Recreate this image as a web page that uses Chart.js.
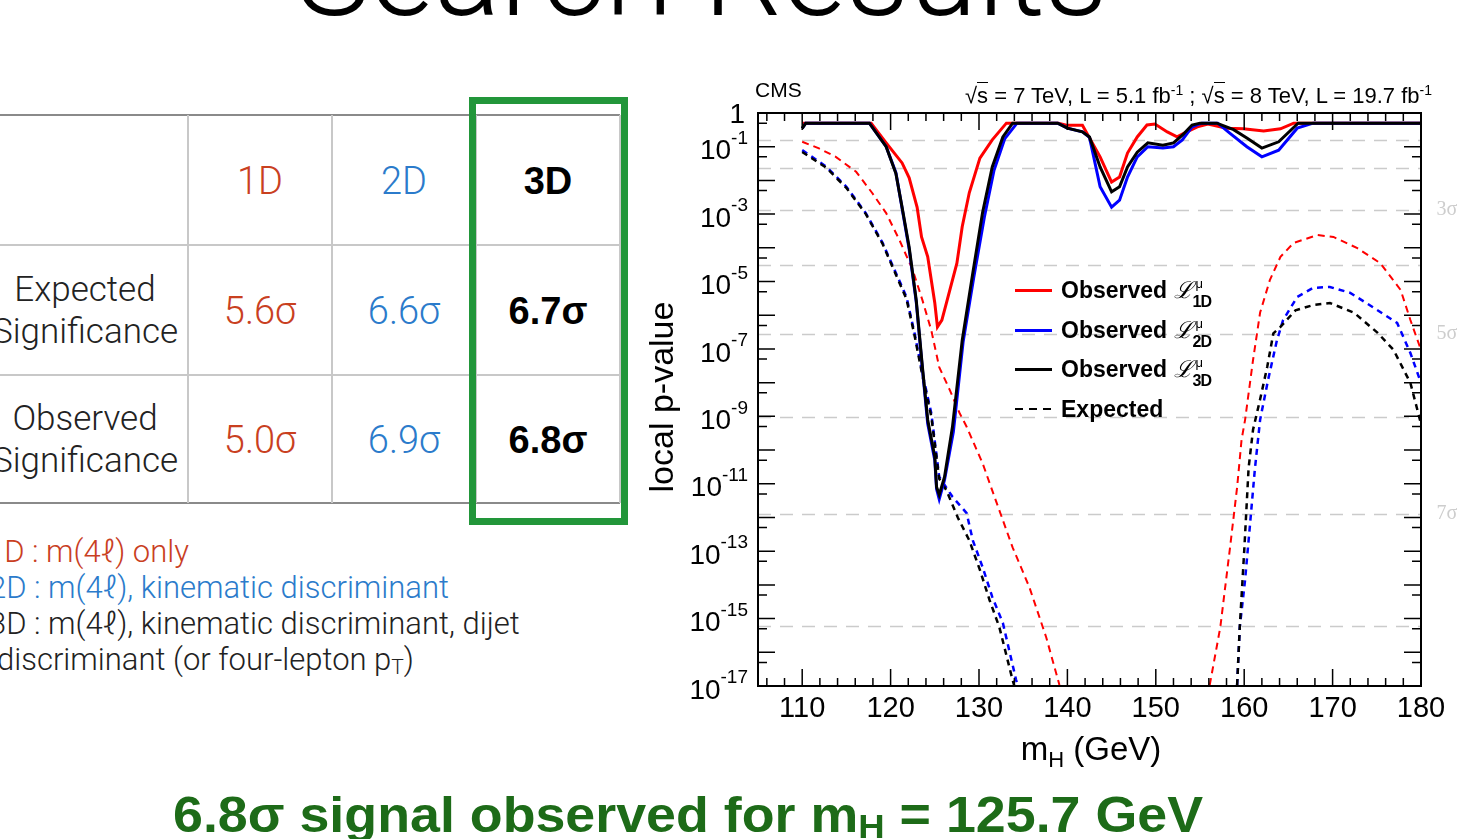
<!DOCTYPE html>
<html>
<head>
<meta charset="utf-8">
<script src="https://cdn.jsdelivr.net/npm/chart.js@4.4.0/dist/chart.umd.min.js"></script>
<style>
  html, body { margin: 0; padding: 0; }
  body { width: 1459px; height: 839px; overflow: hidden; background: #fff; position: relative;
         font-family: "Liberation Sans", Helvetica, Arial, sans-serif; }
  .abs { position: absolute; white-space: nowrap; }
  .light { font-family: Roboto, "Liberation Sans", sans-serif; font-weight: 300; }
  .hl { position: absolute; height: 0; }
  .vl { position: absolute; width: 0; }
  .cell { position: absolute; text-align: center; transform: translate(-50%, -50%); white-space: nowrap; }
  .red { color: #c9401f; }
  .blue { color: #2b7bcb; }
  #chart { position: absolute; left: 640px; top: 60px; }
  .leg { position: absolute; left: 1015px; height: 30px; font-weight: bold; font-size: 23px; color: #000; white-space: nowrap; }
  .leg .ln { position: absolute; left: 0; top: 14px; width: 37px; height: 3px; }
  .leg .tx { position: absolute; left: 46px; top: 0; line-height: 30px; }
  .ss { position: relative; display: inline-block; width: 22px; height: 30px; vertical-align: top; }
  .ss .up { position: absolute; left: 3px; top: -6px; font-size: 13px; font-weight: normal; }
  .ss .dn { position: absolute; left: 0px; top: 12px; font-size: 16px; font-weight: bold; letter-spacing: -1px; }
</style>
</head>
<body>

<div id="title" class="abs light" style="left:0; width:1404px; text-align:center; top:-89px; font-size:124px; line-height:124px; color:#000;">Search Results</div>

<div id="table"></div>
<div class="abs" style="left:469px; top:97px; width:159px; height:428px; box-sizing:border-box; border:7px solid #22963a;"></div>

<div class="abs light red" style="left:-13px; top:534px; font-size:31px; line-height:36px;">1D : m(4ℓ) only</div>
<div class="abs light blue" style="left:-11px; top:570px; font-size:31px; line-height:36px;">2D : m(4ℓ), kinematic discriminant</div>
<div class="abs light" style="left:-11px; top:606px; font-size:31px; line-height:36px; color:#222;">3D : m(4ℓ), kinematic discriminant, dijet</div>
<div class="abs light" style="left:-3px; top:642px; font-size:31px; line-height:36px; color:#222;">discriminant (or four-lepton p<span style="font-size:21px; vertical-align:-4px;">T</span>)</div>

<canvas id="chart" width="819" height="740"></canvas>

<div class="abs" style="left:755px; top:78px; font-size:21px; line-height:24px;">CMS</div>
<div class="abs" style="right:27px; top:78px; font-size:22px; line-height:24px;">√<span style="border-top:1px solid #000;">s</span> = 7 TeV, L = 5.1 fb<sup style="font-size:14px;">-1</sup> ; √<span style="border-top:1px solid #000;">s</span> = 8 TeV, L = 19.7 fb<sup style="font-size:14px;">-1</sup></div>

<div id="legend"></div>

<div id="bottom" class="abs" style="left:173px; top:786px; font-size:50px; line-height:58px; font-weight:bold; color:#1d6b18; transform-origin:0 0;">6.8σ signal observed for m<span style="font-size:34px; vertical-align:-6px;">H</span> = 125.7 GeV</div>

<script>
// ---- data (mH in GeV, local p-value) ----
const obs1D_m = [110, 117.8, 119.5, 121.3, 122.1, 123.0, 123.5, 124.2, 125.0, 125.3, 125.8, 126.4, 127.5, 128.1, 128.9, 130.1, 131.5, 133.1, 139.0, 140.0, 141.7, 143.7, 145.0, 145.9, 146.8, 147.9, 149.0, 149.9, 151.3, 152.4, 153.5, 154.7, 155.9, 158.0, 159.9, 162.2, 164.1, 165.6, 180];
const obs1D_p = [0.5, 0.5, 0.13, 0.033, 0.012, 1.6e-3, 2.1e-4, 5.4e-5, 2.3e-6, 4.5e-7, 7.2e-7, 2.8e-6, 3.5e-5, 4.2e-4, 4.3e-3, 0.046, 0.16, 0.5, 0.5, 0.43, 0.43, 0.05, 8.9e-3, 0.0126, 0.065, 0.195, 0.44, 0.47, 0.275, 0.195, 0.275, 0.39, 0.47, 0.355, 0.34, 0.295, 0.34, 0.5, 0.5];

const obs2D_m = [110, 110.4, 117.6, 119.5, 120.6, 121.3, 122.1, 122.9, 123.6, 124.2, 125.0, 125.2, 125.5, 126.1, 127.1, 128.2, 129.4, 130.6, 131.7, 132.9, 134.3, 138.9, 140.0, 141.7, 142.5, 143.7, 145.0, 145.9, 146.8, 147.9, 149.1, 150.8, 152.0, 153.0, 154.1, 155.2, 157.0, 158.4, 160.3, 162.0, 163.9, 166.0, 167.8, 180];
const obs2D_p = [0.35, 0.5, 0.5, 0.1, 0.017, 1.5e-3, 9e-5, 2.5e-6, 2.5e-8, 6e-10, 5e-11, 7e-12, 3.5e-12, 1.3e-11, 3.5e-10, 1.6e-7, 1.3e-5, 8e-4, 0.02, 0.17, 0.5, 0.5, 0.355, 0.275, 0.19, 6.5e-3, 1.6e-3, 2.6e-3, 0.0126, 0.05, 0.1, 0.091, 0.1, 0.16, 0.39, 0.5, 0.5, 0.25, 0.1, 0.05, 0.079, 0.355, 0.5, 0.5];

const obs3D_m = [110, 110.4, 117.6, 119.5, 120.6, 121.3, 122.1, 122.9, 123.6, 124.2, 125.0, 125.2, 125.5, 126.1, 127.0, 128.1, 129.3, 130.4, 131.5, 132.7, 133.8, 138.9, 140.0, 141.7, 142.5, 143.7, 145.0, 145.9, 146.8, 147.9, 149.1, 150.8, 152.0, 153.0, 154.1, 155.0, 156.9, 158.8, 160.3, 162.0, 163.9, 166.1, 180];
const obs3D_p = [0.35, 0.5, 0.5, 0.1, 0.016, 1.6e-3, 1.05e-4, 2.8e-6, 2.9e-8, 7.8e-10, 6.3e-11, 8e-12, 4.7e-12, 1.6e-11, 4.9e-10, 1.8e-7, 1.8e-5, 1.1e-3, 0.025, 0.195, 0.5, 0.5, 0.355, 0.275, 0.195, 0.025, 4.6e-3, 6.5e-3, 0.025, 0.069, 0.13, 0.11, 0.13, 0.22, 0.44, 0.5, 0.5, 0.32, 0.18, 0.091, 0.14, 0.5, 0.5];

// expected curves leave the frame below 1e-17 between the two arms (null = gap)
const exp1D_m = [110, 111.9, 113.8, 116.1, 117.9, 119.5, 121.0, 122.5, 123.6, 124.6, 125.5, 126.7, 127.8, 128.6, 130.4, 132.0, 133.8, 135.7, 137.6, 139.1, 147, 156.1, 157.3, 158.4, 159.2, 159.7, 160.1, 161.0, 161.8, 162.9, 164.1, 165.6, 168.3, 170.1, 172.8, 175.4, 177.7, 178.8, 180];
const exp1D_p = [0.14, 0.089, 0.05, 0.018, 4.3e-3, 1.07e-3, 1.7e-4, 2.2e-5, 2.8e-6, 3.6e-7, 2.9e-8, 6e-9, 1.26e-9, 4.9e-10, 4.1e-11, 2.7e-12, 1.3e-13, 8.5e-15, 2.8e-16, 1.07e-17, null, 1.07e-17, 5.6e-16, 1.3e-13, 7.9e-12, 2e-10, 7.9e-10, 4.7e-8, 1.2e-6, 1.1e-5, 5.4e-5, 1.4e-4, 2.4e-4, 2.1e-4, 9.8e-5, 3.5e-5, 5.6e-6, 7.2e-7, 9.3e-8];

const exp2D_m = [110, 112.7, 115.0, 117.2, 119.1, 120.6, 121.8, 122.7, 123.6, 124.6, 125.5, 127.0, 128.6, 129.3, 130.4, 131.5, 132.7, 134.2, 134.4, 147, 159.2, 159.5, 160.1, 160.7, 161.2, 161.8, 162.7, 163.7, 164.4, 166.0, 167.8, 169.7, 172.0, 174.6, 177.3, 178.8, 180];
const exp2D_p = [0.079, 0.026, 6.5e-3, 1.07e-3, 1.4e-4, 1.8e-5, 3.5e-6, 3e-7, 1.9e-8, 1.26e-9, 1.6e-11, 4.1e-12, 1.35e-12, 2.1e-13, 3.4e-14, 4.4e-15, 7.4e-16, 1.5e-17, 1e-17, null, 1.07e-17, 5.6e-16, 1.4e-14, 8.3e-13, 2.6e-11, 7.9e-10, 1.2e-8, 1.8e-7, 7.2e-7, 3.5e-6, 6.5e-6, 6.9e-6, 4.6e-6, 1.7e-6, 5.9e-7, 7.6e-8, 9.8e-9];

const exp3D_m = [110, 112.7, 115.0, 117.2, 119.1, 120.6, 121.8, 122.7, 123.6, 124.6, 125.5, 126.3, 127.6, 128.9, 130.1, 131.2, 132.3, 133.8, 134.0, 147, 159.2, 159.5, 160.0, 160.5, 161.0, 161.8, 162.6, 163.3, 164.1, 165.8, 167.8, 169.7, 172.4, 175.1, 176.9, 178.8, 180];
const exp3D_p = [0.07, 0.024, 6e-3, 1e-3, 1.3e-4, 1.6e-5, 3e-6, 2.6e-7, 1.6e-8, 1e-9, 1.4e-11, 6.5e-12, 1e-12, 2.1e-13, 2.8e-14, 3.5e-15, 5.6e-16, 1.5e-17, 1e-17, null, 1.07e-17, 5.6e-16, 1e-13, 3e-11, 4e-10, 3.2e-9, 2.9e-8, 2.9e-7, 4.5e-7, 1.4e-6, 2e-6, 2.3e-6, 1.2e-6, 3e-7, 9.3e-8, 9.8e-9, 6e-10];

// horizontal reference lines at 1..8 sigma, labels for some of them
const sigmaP = [0.1587, 0.02275, 1.35e-3, 3.17e-5, 2.87e-7, 9.87e-10, 1.28e-12, 6.22e-16];
const sigmaLabels = ['', '', '3σ', '', '5σ', '', '7σ', ''];

// axis ticks
const xLabels = [110, 120, 130, 140, 150, 160, 170, 180];
const yExpLabels = [0, -1, -3, -5, -7, -9, -11, -13, -15, -17];

// table / legend text
const tableCols = ['1D', '2D', '3D'];
const tableRows = [['Expected', 'Significance'], ['Observed', 'Significance']];
const expSig = ['5.6σ', '6.6σ', '6.7σ'];
const obsSig = ['5.0σ', '6.9σ', '6.8σ'];

// ---- table ----
(function () {
  const t = document.getElementById('table');
  let h = '';
  const hline = (y, c, w) => h += `<div class="hl" style="left:0;width:620px;top:${y}px;border-top:${w}px solid ${c}"></div>`;
  hline(114, '#8a8a8a', 2); hline(244, '#c8c8c8', 2); hline(374, '#c8c8c8', 2); hline(502, '#8a8a8a', 2);
  [188, 332, 476, 620].forEach(x => h += `<div class="vl" style="top:115px;height:388px;left:${x - 1}px;border-left:2px solid #c8c8c8"></div>`);
  const colX = [260, 404, 548];
  const cls = ['red', 'blue', ''];
  tableCols.forEach((c, i) => {
    h += `<div class="cell ${i < 2 ? 'light ' + cls[i] : ''}" style="left:${colX[i]}px;top:181px;font-size:38px;${i == 2 ? 'font-weight:bold;' : ''}">${c}</div>`;
  });
  [expSig, obsSig].forEach((row, r) => {
    const y = r == 0 ? 311 : 440;
    h += `<div class="cell light" style="left:85px;top:${y}px;font-size:35px;line-height:42px;color:#222">${tableRows[r][0]}<br>${tableRows[r][1]}</div>`;
    row.forEach((v, i) => {
      h += `<div class="cell ${i < 2 ? 'light ' + cls[i] : ''}" style="left:${colX[i]}px;top:${y}px;font-size:38px;${i == 2 ? 'font-weight:bold;' : ''}">${v}</div>`;
    });
  });
  t.innerHTML = h;
})();

// ---- legend ----
(function () {
  const rows = [
    { y: 290, c: '#ff0000', sub: '1D' },
    { y: 330, c: '#0000ff', sub: '2D' },
    { y: 369, c: '#000000', sub: '3D' }
  ];
  let h = '';
  rows.forEach(r => {
    h += `<div class="leg" style="top:${r.y - 15}px"><div class="ln" style="background:${r.c}"></div>` +
         `<div class="tx">Observed <span style="font-style:italic;font-family:'DejaVu Serif',serif;font-weight:normal">ℒ</span>` +
         `<span class="ss"><span class="up">μ</span><span class="dn">${r.sub}</span></span></div></div>`;
  });
  h += `<div class="leg" style="top:394px"><div class="ln" style="height:2px;background:repeating-linear-gradient(to right,#000 0 8px,transparent 8px 14px)"></div>` +
       `<div class="tx">Expected</div></div>`;
  document.getElementById('legend').innerHTML = h;
})();

// ---- frame, inward ticks, labels, sigma lines (ROOT style) ----
const rootFrame = {
  id: 'rootFrame',
  beforeDatasetsDraw(chart) {
    const { ctx, chartArea: a, scales: { y } } = chart;
    ctx.save();
    ctx.strokeStyle = '#cbcbcb';
    ctx.lineWidth = 1.5;
    ctx.setLineDash([13, 9]);
    sigmaP.forEach(p => {
      const py = Math.round(y.getPixelForValue(p)) + 0.5;
      ctx.beginPath(); ctx.moveTo(a.left, py); ctx.lineTo(a.right, py); ctx.stroke();
    });
    ctx.restore();
  },
  afterDatasetsDraw(chart) {
    const { ctx, chartArea: a, scales: { x, y } } = chart;
    ctx.save();
    ctx.strokeStyle = '#000';
    ctx.lineWidth = 2;
    ctx.strokeRect(a.left, a.top, a.right - a.left, a.bottom - a.top);

    ctx.lineWidth = 1.5;
    ctx.beginPath();
    // y ticks: long at decades, short half a decade below
    for (let k = 0; k >= -17; k--) {
      const py = y.getPixelForValue(Math.pow(10, k));
      ctx.moveTo(a.left, py); ctx.lineTo(a.left + 17, py);
      ctx.moveTo(a.right, py); ctx.lineTo(a.right - 17, py);
      if (k > -17) {
        const ps = y.getPixelForValue(5 * Math.pow(10, k - 1));
        ctx.moveTo(a.left, ps); ctx.lineTo(a.left + 9, ps);
        ctx.moveTo(a.right, ps); ctx.lineTo(a.right - 9, ps);
      }
    }
    // x ticks: long every 10 GeV, short every 2 GeV
    for (let m = 106; m <= 180; m += 2) {
      const px = x.getPixelForValue(m);
      const len = (m % 10 === 0) ? 17 : 8;
      ctx.moveTo(px, a.bottom); ctx.lineTo(px, a.bottom - len);
      ctx.moveTo(px, a.top); ctx.lineTo(px, a.top + len);
    }
    ctx.stroke();

    // tick labels
    ctx.fillStyle = '#000';
    ctx.font = '29px "Liberation Sans", Arial, sans-serif';
    ctx.textAlign = 'center';
    ctx.textBaseline = 'middle';
    xLabels.forEach(v => ctx.fillText(String(v), x.getPixelForValue(v), a.bottom + 23));

    yExpLabels.forEach(e => {
      const py = y.getPixelForValue(Math.pow(10, e));
      const right = a.left - 10;
      if (e === 0) {
        ctx.font = '28px "Liberation Sans", Arial, sans-serif';
        ctx.textAlign = 'right';
        ctx.fillText('1', right - 3, py + 2);
        return;
      }
      const sup = String(e);
      ctx.font = '19px "Liberation Sans", Arial, sans-serif';
      const ws = ctx.measureText(sup).width;
      ctx.textAlign = 'right';
      ctx.fillText(sup, right, py - 8);
      ctx.font = '28px "Liberation Sans", Arial, sans-serif';
      ctx.fillText('10', right - ws, py + 5);
    });

    // sigma labels on the right
    ctx.fillStyle = '#cdcdcd';
    ctx.font = '20px "Liberation Serif", serif';
    ctx.textAlign = 'center';
    sigmaP.forEach((p, i) => {
      if (sigmaLabels[i]) ctx.fillText(sigmaLabels[i], a.right + 26, y.getPixelForValue(p));
    });

    // axis titles
    ctx.fillStyle = '#000';
    const big = '33px "Liberation Sans", Arial, sans-serif';
    const small = '22px "Liberation Sans", Arial, sans-serif';
    const cx = 451, cy = 691;
    ctx.textAlign = 'left';
    ctx.font = big;
    const w1 = ctx.measureText('m').width;
    const w3 = ctx.measureText(' (GeV)').width;
    ctx.font = small;
    const w2 = ctx.measureText('H').width;
    const sx = cx - (w1 + w2 + w3) / 2;
    ctx.font = big;
    ctx.fillText('m', sx, cy);
    ctx.font = small;
    ctx.fillText('H', sx + w1, cy + 10);
    ctx.font = big;
    ctx.fillText(' (GeV)', sx + w1 + w2, cy);

    ctx.translate(24, 337);
    ctx.rotate(-Math.PI / 2);
    ctx.textAlign = 'center';
    ctx.font = '34px "Liberation Sans", Arial, sans-serif';
    ctx.fillText('local p-value', 0, 0);
    ctx.restore();
  }
};

function pts(m, p) { return m.map((v, i) => ({ x: v, y: p[i] })); }

new Chart(document.getElementById('chart').getContext('2d'), {
  type: 'line',
  data: {
    datasets: [
      { label: 'Observed 3D', data: pts(obs3D_m, obs3D_p), borderColor: '#000', borderWidth: 3, order: 0 },
      { label: 'Observed 2D', data: pts(obs2D_m, obs2D_p), borderColor: '#0000ff', borderWidth: 3, order: 1 },
      { label: 'Observed 1D', data: pts(obs1D_m, obs1D_p), borderColor: '#ff0000', borderWidth: 3, order: 2 },
      { label: 'Expected 3D', data: pts(exp3D_m, exp3D_p), borderColor: '#000', borderWidth: 2.5, borderDash: [6, 5], order: 3 },
      { label: 'Expected 2D', data: pts(exp2D_m, exp2D_p), borderColor: '#0000ff', borderWidth: 2.5, borderDash: [6, 5], order: 4 },
      { label: 'Expected 1D', data: pts(exp1D_m, exp1D_p), borderColor: '#ff0000', borderWidth: 2, borderDash: [7, 5], order: 5 }
    ]
  },
  options: {
    responsive: false,
    animation: false,
    devicePixelRatio: 1,
    layout: { padding: { top: 53, right: 38, left: 0, bottom: 0 } },
    plugins: { legend: { display: false }, tooltip: { enabled: false } },
    elements: { point: { radius: 0 }, line: { tension: 0, fill: false } },
    scales: {
      x: {
        type: 'linear', min: 105, max: 180,
        grid: { display: false }, border: { display: false }, ticks: { display: false },
        afterFit(s) { s.height = 114; }
      },
      y: {
        type: 'logarithmic', min: 1e-17, max: 1,
        grid: { display: false }, border: { display: false }, ticks: { display: false },
        afterFit(s) { s.width = 118; }
      }
    }
  },
  plugins: [rootFrame]
});

// stretch the bottom statement to its width on the slide
(function () {
  const b = document.getElementById('bottom');
  const w = b.getBoundingClientRect().width;
  b.style.transform = `scaleX(${1030 / w})`;
})();
</script>
</body>
</html>
